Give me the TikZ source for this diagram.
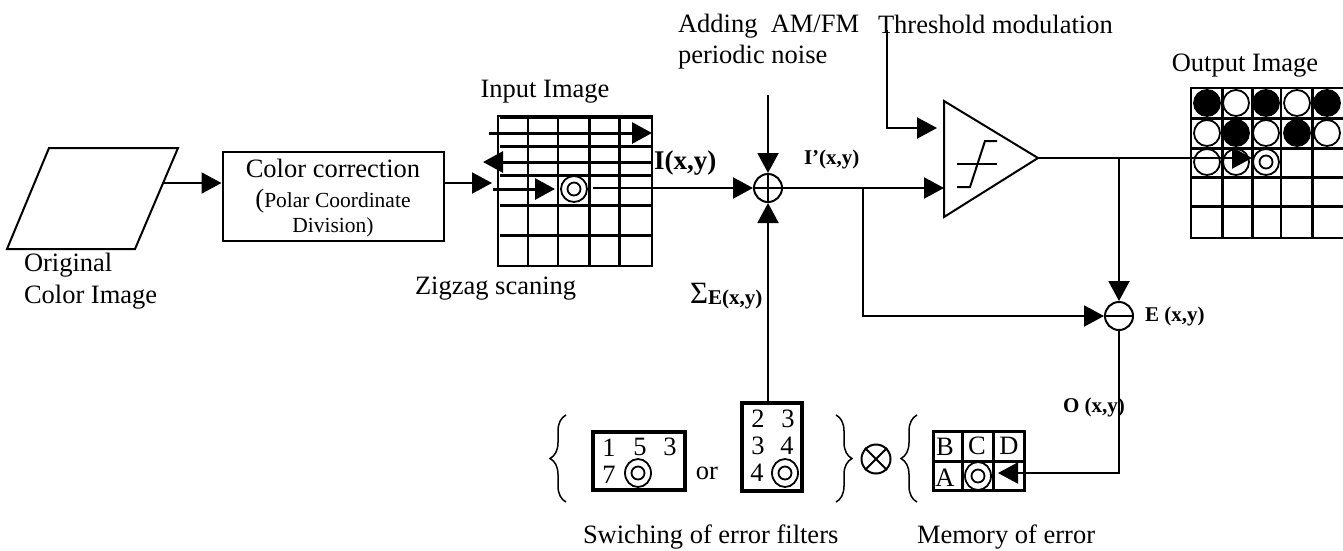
\documentclass[tikz,border=0pt]{standalone}
\usepackage{fontspec}
\setmainfont{Liberation Serif}
\usepackage{tikz}
\usetikzlibrary{arrows.meta, positioning, calc, shapes.geometric, decorations.pathreplacing}
\newcommand{\bigfont}{\fontsize{26.5}{31}\selectfont}
\newcommand{\midfont}{\fontsize{21.5}{26}\selectfont}
\newcommand{\boldfont}{\fontsize{21}{26}\selectfont\bfseries}
\begin{document}
\begin{tikzpicture}[x=1pt, y=-1pt, line width=2pt, every node/.style={font=\bigfont, inner sep=0pt}]
	\tikzstyle{txt}=[align=left, anchor=west]
	\tikzstyle{arr}=[-{Triangle[length=20pt, width=21pt]}]
	\tikzstyle{sumc}=[circle, draw=black, minimum size=28pt]
	\tikzstyle{pixc}=[circle, draw=black, minimum size=26pt, line width=1.8pt]
	\tikzstyle{pixi}=[circle, draw=black, minimum size=13pt, line width=1.8pt]
	\tikzstyle{pixe}=[ellipse, draw=black, minimum width=26pt, minimum height=28pt, line width=1.8pt]
	\tikzstyle{blackc}=[pixc, fill=black]
	\tikzstyle{hline}=[line width=3pt]
	\tikzstyle{brc}=[decorate, decoration={brace, amplitude=16pt}, line width=1.5pt]
	\useasboundingbox (0,0) rectangle (1343,550);

	% source and colour correction
	\coordinate (srca) at (49,148);
	\coordinate (srcb) at (178,148);
	\coordinate (srcc) at (135,249);
	\coordinate (srcd) at (7,249);
	\draw (srca) -- (srcb) -- (srcc) -- (srcd) -- cycle;
	\coordinate (srcout) at (164,183);
	\node (orig) at (23,281) [txt]{Original\\[1pt]Color Image};
	\node (corr) at (333,196) [draw, minimum width=221pt, minimum height=89pt]{};
	\node (corrt) at (333,168) {Color correction};
	\node (polar) at (333,201) {{\bigfont(}\midfont Polar Coordinate};
	\node (divis) at (333,227) {\midfont Division)};
	\draw[arr] (srcout) -- (corr.west |- srcout);

	% input image grid
	\node (inlbl) at (545,92) {Input Image};
	\node (inbox) at (575,191) [draw, minimum width=154pt, minimum height=150pt, line width=1.8pt]{};
	\foreach \x in {528,558} {\draw (\x,117) -- (\x,265);}
	\foreach \x in {589,619} {\draw[hline] (\x,117) -- (\x,265);}
	\foreach \y in {117,146,175,205,235} {\draw[hline] (500,\y) -- (652,\y);}
	\node (inpix) at (574,189) [pixc, fill=white]{};
	\node (inpixi) at (574,189) [pixi]{};
	\coordinate (corrout) at (443,183);
	\coordinate (inin) at (492,183);
	\draw[arr] (corrout) -- (inin);
	\coordinate (za) at (489,133);
	\coordinate (zb) at (652,133);
	\coordinate (zc) at (652,162);
	\coordinate (zd) at (483,162);
	\coordinate (ze) at (493,189);
	\coordinate (zf) at (555,189);
	\draw[arr, hline] (za) -- (zb);
	\draw[arr, hline] (zc) -- (zd);
	\draw[arr, hline] (ze) -- (zf);
	\node (ilbl) at (653,163) [anchor=west]{\fontsize{27}{30}\selectfont\bfseries I(x,y)};
	\node (zig) at (414,289) [txt]{Zigzag scaning};

	% adder and noise
	\node (add) at (768,188) [sumc]{};
	\draw (add.north) -- (add.south);
	\draw (add.west) -- (add.east);
	\coordinate (inout) at (593,188);
	\draw[arr] (inout) -- (add.west);
	\node (noise) at (677,42) [txt]{Adding~~AM/FM\\[0pt]periodic noise};
	\coordinate (nz) at (768,95);
	\draw[arr] (nz) -- (add.north);
	\node (iplbl) at (803,159) [anchor=west]{\boldfont I’(x,y)};
	\node (sumlbl) at (689,293) [anchor=west]{\fontsize{31}{31}\selectfont Σ};
	\node (sumsub) at (707,299) [anchor=west]{\boldfont E(x,y)};

	% threshold
	\node (thr) at (877,24) [txt]{Threshold modulation};
	\coordinate (cmpu) at (944,101);
	\coordinate (cmpo) at (1038,158);
	\coordinate (cmpd) at (944,217);
	\draw (cmpu) -- (cmpo) -- (cmpd) -- cycle;
	\coordinate (cmpa) at (944,188);
	\coordinate (cmpb) at (937,128);
	\coordinate (cmpt) at (887,30);
	\draw[arr] (add.east) -- (cmpa);
	\draw[arr] (cmpt) |- (cmpb);
	\draw (957,164) -- (997,164);
	\draw (957,187) -- (970,187) -- (985,141) -- (997,141);

	% output image grid
	\node (outlbl) at (1245,66) {Output Image};
	\node (outbox) at (1268.5,163) [draw, minimum width=155pt, minimum height=150pt, line width=2.5pt]{};
	\foreach \x in {1222,1252,1312} {\draw[hline] (\x,88) -- (\x,238);}
	\draw (1281,88) -- (1281,238);
	\foreach \y in {118,148,177,206} {\draw[hline] (1191,\y) -- (1343,\y);}
	\foreach \x in {1207,1266,1327} {\node (b\x) at (\x,103) [blackc]{};}
	\foreach \x in {1236,1297} {\node (w\x) at (\x,103) [pixc, fill=white]{};}
	\foreach \x in {1236,1297} {\node (bb\x) at (\x,133) [blackc]{};}
	\foreach \x in {1207,1266,1327} {\node (ww\x) at (\x,133) [pixc, fill=white]{};}
	\node (p1) at (1207,162) [pixc]{};
	\node (p2) at (1236,162) [pixc]{};
	\node (p3) at (1266,162) [pixc]{};
	\node (p3i) at (1266,162) [pixi]{};
	\draw[arr] (cmpo) -- (p3.west |- cmpo);

	% error node
	\node (err) at (1119,316) [sumc]{};
	\draw (err.west) -- (err.east);
	\coordinate (tap) at (1119,158);
	\coordinate (tapb) at (863,188);
	\draw[arr] (tap) -- (err.north);
	\draw[arr] (tapb) |- (err.west);
	\node (elbl) at (1144,316) [anchor=west]{\boldfont E (x,y)};
	\node (olbl) at (1062,407) [anchor=west]{\boldfont O (x,y)};

	% filters
	\draw[brc] (566,502) -- (566,415);
	\node (fa) at (639,461) [draw, line width=3.5pt, minimum width=92pt, minimum height=58pt]{};
	\node (fa1) at (609,448) {1};
	\node (fa2) at (640,447) {5};
	\node (fa3) at (670,447) {3};
	\node (fa4) at (609,475) {7};
	\node (fa5) at (638,473) [pixe]{};
	\node (fa6) at (638,473) [pixi]{};
	\node (or) at (707,473) {or};
	\node (fb) at (772,447) [draw, line width=3.5pt, minimum width=60pt, minimum height=88pt]{};
	\node (fb1) at (758,419) {2};
	\node (fb2) at (788,419) {3};
	\node (fb3) at (758,446) {3};
	\node (fb4) at (787,446) {4};
	\node (fb5) at (757,473) {4};
	\node (fb6) at (785,473) [pixe]{};
	\node (fb7) at (785,473) [pixi]{};
	\draw[arr] (add |- fb.north) -- (add.south);
	\draw[brc] (836,415) -- (836,502);
	\node (times) at (876,459) [circle, draw=black, minimum size=29pt]{};
	\draw (times.north west) -- (times.south east);
	\draw (times.north east) -- (times.south west);
	\draw[brc] (917,502) -- (917,415);

	% memory of error
	\node (mem) at (978.5,461) [draw, line width=3pt, minimum width=91pt, minimum height=59pt]{};
	\draw[hline] (962,431) -- (962,491);
	\draw[hline] (993,431) -- (993,491);
	\draw[hline] (932,461) -- (1025,461);
	\node (mb) at (945,447) {B};
	\node (mc) at (977,446) {C};
	\node (md) at (1009,446) {D};
	\node (ma) at (945,478) {A};
	\node (mp) at (978,476) [pixe]{};
	\node (mpi) at (978,476) [pixi]{};
	\coordinate (memin) at (998,473);
	\draw[arr] (err.south) |- (memin);

	\node (swi) at (582,537) [txt]{Swiching of error filters};
	\node (moe) at (916,537) [txt]{Memory of error};
\end{tikzpicture}
\end{document}
